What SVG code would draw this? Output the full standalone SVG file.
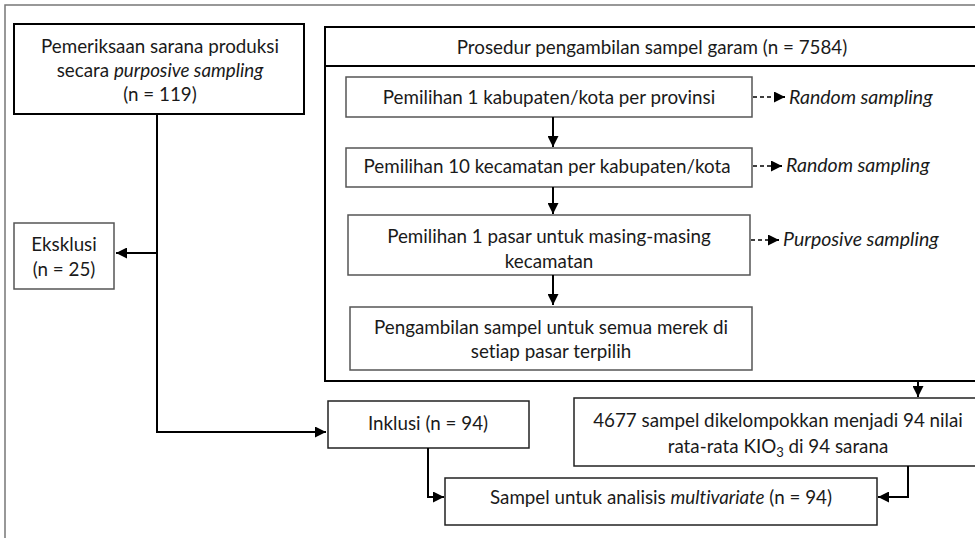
<svg xmlns="http://www.w3.org/2000/svg" width="975" height="538" viewBox="0 0 975 538">
  <defs>
    <marker id="arr" viewBox="0 0 10 10" refX="10" refY="5" markerWidth="11" markerHeight="11" markerUnits="userSpaceOnUse" orient="auto">
      <path d="M0,0 L10,5 L0,10 z" fill="#000"/>
    </marker>
    <style>
      .t { font-family: Lato, "Liberation Sans", sans-serif; font-size: 18.8px; fill: #1a1a1a; text-anchor: middle; font-variant-ligatures: none; }
      .side { font-family: Lato, "Liberation Sans", sans-serif; font-size: 19.5px; font-style: italic; fill: #1a1a1a; font-variant-ligatures: none; }
      .it { font-style: italic; }
      .thick { fill: #fff; stroke: #000; stroke-width: 2; }
      .thin { fill: #fff; stroke: #555; stroke-width: 1.5; }
      .mid { fill: #fff; stroke: #222; stroke-width: 1.5; }
      .wire { fill: none; stroke: #000; stroke-width: 2; }
      .dash { fill: none; stroke: #000; stroke-width: 1.5; stroke-dasharray: 4 3; }
    </style>
  </defs>

  <rect width="975" height="538" fill="#fff"/>
  <!-- outer frame -->
  <path d="M5,538 V5 H975" fill="none" stroke="#777" stroke-width="1.5"/>

  <g id="pemeriksaan">
    <rect class="thick" x="14" y="24" width="290" height="90"/>
    <text class="t" x="160" y="53">Pemeriksaan sarana produksi</text>
    <text class="t" x="160" y="77">secara <tspan class="it">purposive sampling</tspan></text>
    <text class="t" x="160" y="101">(n = 119)</text>
  </g>

  <g id="eksklusi">
    <rect class="thin" x="14" y="223" width="100" height="66"/>
    <text class="t" x="64" y="251">Eksklusi</text>
    <text class="t" x="64" y="276">(n = 25)</text>
  </g>

  <g id="prosedur">
    <rect class="thick" x="325" y="66" width="660" height="315"/>
    <rect class="thick" x="325" y="27" width="660" height="39"/>
    <text class="t" x="652" y="54">Prosedur pengambilan sampel garam (n = 7584)</text>
  </g>

  <g id="kabupaten">
    <rect class="thin" x="346" y="77" width="406" height="40"/>
    <text class="t" x="549" y="104">Pemilihan 1 kabupaten/kota per provinsi</text>
  </g>
  <g id="kecamatan">
    <rect class="thin" x="346" y="148" width="406" height="39"/>
    <text class="t" x="547" y="173">Pemilihan 10 kecamatan per kabupaten/kota</text>
  </g>
  <g id="pasar">
    <rect class="thin" x="348" y="215" width="402" height="60"/>
    <text class="t" x="549" y="243">Pemilihan 1 pasar untuk masing-masing</text>
    <text class="t" x="549" y="268">kecamatan</text>
  </g>
  <g id="pengambilan">
    <rect class="thin" x="350" y="307" width="402" height="63"/>
    <text class="t" x="551" y="334">Pengambilan sampel untuk semua merek di</text>
    <text class="t" x="551" y="358">setiap pasar terpilih</text>
  </g>

  <g id="random1"><text class="side" x="789" y="104">Random sampling</text></g>
  <g id="random2"><text class="side" x="786" y="172">Random sampling</text></g>
  <g id="purposive"><text class="side" x="783" y="246">Purposive sampling</text></g>

  <g id="inklusi">
    <rect class="mid" x="328" y="401" width="201" height="47"/>
    <text class="t" x="428" y="430">Inklusi (n = 94)</text>
  </g>

  <g id="kelompok">
    <rect class="mid" x="574" y="398" width="411" height="68"/>
    <text class="t" x="778" y="427">4677 sampel dikelompokkan menjadi 94 nilai</text>
    <text class="t" x="778" y="453">rata-rata KIO<tspan font-size="13" dy="4">3</tspan><tspan dy="-4"> di 94 sarana</tspan></text>
  </g>

  <g id="multivariate">
    <rect class="mid" x="445" y="478" width="432" height="47"/>
    <text class="t" x="661" y="504">Sampel untuk analisis <tspan class="it">multivariate</tspan> (n = 94)</text>
  </g>

  <!-- connectors, drawn over the box fills -->
  <g id="connectors">
    <path class="wire" d="M157,114 V432 H326" marker-end="url(#arr)"/>
    <path class="wire" d="M157,253 H116" marker-end="url(#arr)"/>
    <path class="wire" d="M553,117 V147" marker-end="url(#arr)"/>
    <path class="wire" d="M553,187 V214" marker-end="url(#arr)"/>
    <path class="wire" d="M553,275 V305" marker-end="url(#arr)"/>
    <path class="wire" d="M918,382 V397" marker-end="url(#arr)"/>
    <path class="wire" d="M428,448 V497 H444" marker-end="url(#arr)"/>
    <path class="wire" d="M908,466 V497 H878" marker-end="url(#arr)"/>
    <path class="dash" d="M753,97 H774"/>
    <path class="wire" d="M774,97 H785" marker-end="url(#arr)"/>
    <path class="dash" d="M753,166 H771"/>
    <path class="wire" d="M771,166 H782" marker-end="url(#arr)"/>
    <path class="dash" d="M751,240 H768"/>
    <path class="wire" d="M768,240 H779" marker-end="url(#arr)"/>
  </g>
</svg>
